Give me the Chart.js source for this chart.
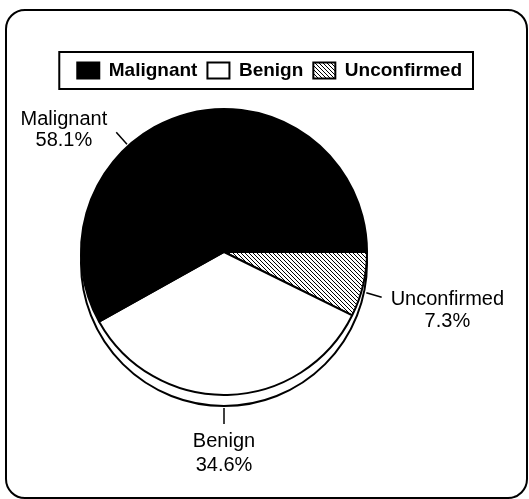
<!DOCTYPE html>
<html>
<head>
<meta charset="utf-8">
<script src="https://cdn.jsdelivr.net/npm/chart.js@4.4.1/dist/chart.umd.min.js"></script>
<style>
  html, body { margin: 0; padding: 0; background: #fff; overflow: hidden; }
  #wrap { position: relative; width: 529px; height: 499px; overflow: hidden; }
  #c { position: absolute; left: -24px; top: 0; }
  #frame {
    position: absolute; left: 5px; top: 9px; width: 523px; height: 490px;
    box-sizing: border-box; border: 2px solid #000; border-radius: 20px;
    pointer-events: none;
  }
</style>
</head>
<body>
<div id="wrap">
  <canvas id="c" width="553" height="499"></canvas>
  <div id="frame"></div>
</div>
<script>
// ---- data ----
const categories = ['Malignant', 'Benign', 'Unconfirmed'];
const percentages = [58.1, 34.6, 7.3];

// ---- style ----
const FONT = '"Liberation Sans", Arial, Helvetica, sans-serif';
const fills = { Malignant: '#000000', Benign: '#ffffff', Unconfirmed: 'hatch' };
const labelAngleDeg = { Malignant: 228, Benign: 90, Unconfirmed: 16 };
const depth = 11; // pseudo-3D edge thickness

function hatchPattern() {
  const s = 4;
  const pc = document.createElement('canvas');
  pc.width = s; pc.height = s;
  const g = pc.getContext('2d');
  g.fillStyle = '#fff'; g.fillRect(0, 0, s, s);
  g.strokeStyle = '#000'; g.lineWidth = 1;
  g.beginPath();
  g.moveTo(-1, -1); g.lineTo(s + 1, s + 1);
  g.moveTo(-1, s - 1); g.lineTo(1, s + 1);
  g.moveTo(s - 1, -1); g.lineTo(s + 1, 1);
  g.stroke();
  return document.getElementById('c').getContext('2d').createPattern(pc, 'repeat');
}
const pattern = hatchPattern();

// draw clockwise from 3 o'clock: Unconfirmed, Benign, Malignant
const order = [2, 1, 0];
const chartLabels = order.map(i => categories[i]);
const chartValues = order.map(i => percentages[i]);
const chartFills = chartLabels.map(l => fills[l] === 'hatch' ? pattern : fills[l]);

const depthPlugin = {
  id: 'depth',
  beforeDatasetsDraw(chart) {
    const arc = chart.getDatasetMeta(0).data[0];
    if (!arc) return;
    const ctx = chart.ctx;
    ctx.save();
    ctx.beginPath();
    ctx.arc(arc.x, arc.y + depth, arc.outerRadius, 0, Math.PI * 2);
    ctx.fillStyle = '#fff';
    ctx.fill();
    ctx.lineWidth = 2;
    ctx.strokeStyle = '#000';
    ctx.stroke();
    ctx.restore();
  }
};

const labelPlugin = {
  id: 'sliceLabels',
  afterDatasetsDraw(chart) {
    const meta = chart.getDatasetMeta(0);
    const ctx = chart.ctx;
    ctx.save();
    ctx.font = '20px ' + FONT;
    ctx.fillStyle = '#000';
    ctx.strokeStyle = '#000';
    ctx.lineWidth = 1.5;
    ctx.textBaseline = 'middle';
    meta.data.forEach((arc, i) => {
      const name = chartLabels[i];
      const val = chartValues[i];
      const a = labelAngleDeg[name] * Math.PI / 180;
      const c = Math.cos(a), s = Math.sin(a);
      const r1 = arc.outerRadius + 2 + (s > 0 ? depth * s : 0);
      const r2 = r1 + 16;
      const x1 = arc.x + r1 * c, y1 = arc.y + r1 * s;
      const x2 = arc.x + r2 * c, y2 = arc.y + r2 * s;
      ctx.beginPath(); ctx.moveTo(x1, y1); ctx.lineTo(x2, y2); ctx.stroke();
      const l1 = name, l2 = val.toFixed(1) + '%';
      const w = Math.max(ctx.measureText(l1).width, ctx.measureText(l2).width);
      ctx.textAlign = 'center';
      if (c > 0.5) {
        const cx = x2 + 9 + w / 2;
        ctx.fillText(l1, cx, y2 + 2);
        ctx.fillText(l2, cx, y2 + 24);
      } else if (c < -0.5) {
        const cx = x2 - 9 - w / 2;
        ctx.fillText(l1, cx, y2 - 13);
        ctx.fillText(l2, cx, y2 + 8);
      } else {
        ctx.fillText(l1, x2, y2 + 17);
        ctx.fillText(l2, x2, y2 + 41);
      }
    });
    ctx.restore();
  }
};

const legendFrame = {
  id: 'legendFrame',
  afterDraw(chart) {
    const lg = chart.legend;
    if (!lg || !lg.legendHitBoxes || !lg.legendHitBoxes.length) return;
    const hb = lg.legendHitBoxes;
    const lastHb = hb.reduce((m, h) => (h.left + h.width > m.left + m.width ? h : m), hb[0]);
    const minLeft = Math.min(...hb.map(h => h.left));
    const left = minLeft - 18;
    const right = lastHb.left + lastHb.width + 11;
    const top = lg.top + 1;
    const bottom = lg.top + 38;
    const ctx = chart.ctx;
    ctx.save();
    ctx.lineWidth = 2;
    ctx.strokeStyle = '#000';
    ctx.strokeRect(left, top, right - left, bottom - top);
    ctx.restore();
  }
};

new Chart(document.getElementById('c'), {
  type: 'pie',
  data: {
    labels: chartLabels,
    datasets: [{
      data: chartValues,
      backgroundColor: chartFills,
      borderColor: '#000',
      borderWidth: 2
    }]
  },
  options: {
    responsive: false,
    animation: false,
    rotation: 90,
    radius: 143,
    layout: { padding: { left: 0, right: 57, top: 51, bottom: 85 } },
    plugins: {
      tooltip: { enabled: false },
      legend: {
        position: 'top',
        align: 'end',
        labels: {
          color: '#000',
          boxWidth: 22,
          boxHeight: 16,
          padding: 10,
          font: { family: FONT, size: 19, weight: 'bold' },
          sort: (a, b) => b.index - a.index
        }
      }
    }
  },
  plugins: [depthPlugin, labelPlugin, legendFrame]
});
</script>
</body>
</html>
